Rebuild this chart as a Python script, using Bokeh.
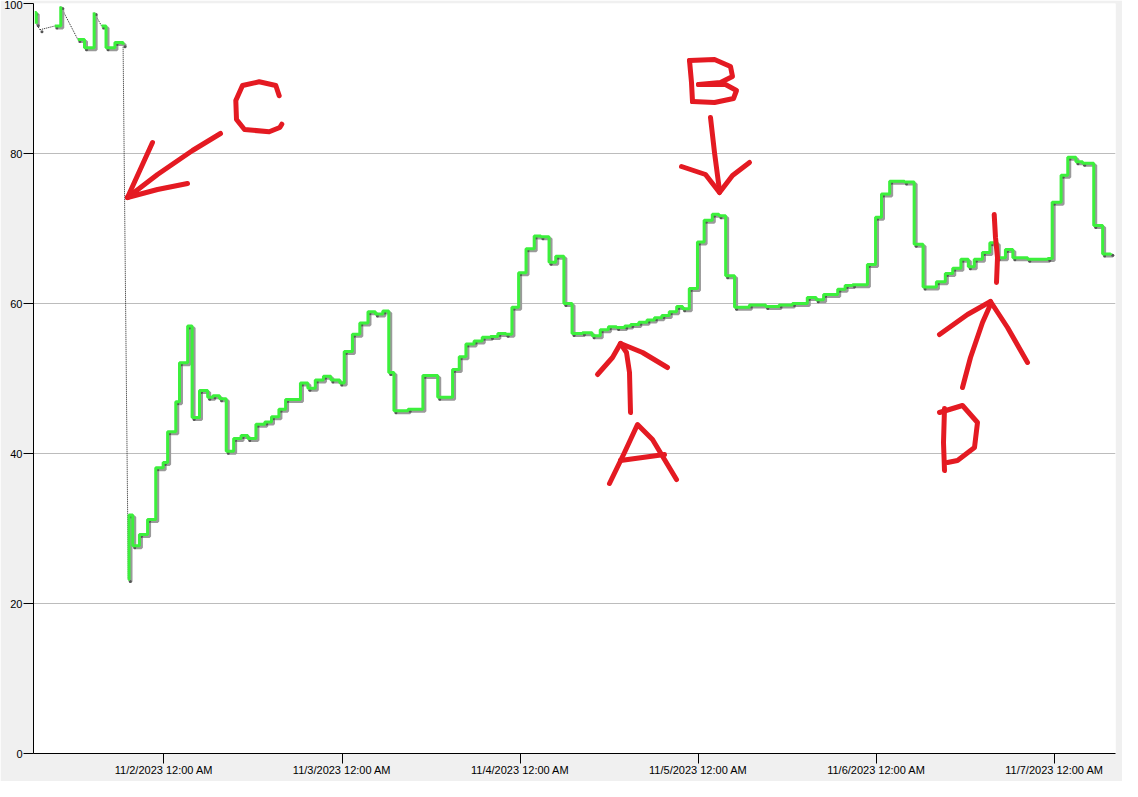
import calendar
from datetime import datetime

from bokeh.plotting import figure
from bokeh.models import Range1d, FixedTicker
from bokeh.embed import file_html
from bokeh.resources import INLINE

# ---------------- data ----------------
# time of each reading, in hours after 11/2/2023 12:00 AM
hours = [
    -17.4, -17.2, -16.7, -14.7, -13.9, -11.6, -10.7, -9.4, -8.4, -7.8, -6.6, -5.5,
    -4.8, -4.7, -4.2, -3.3, -2.2, -1.1, -0.1, 0.5, 1.6, 2.1, 3.2, 3.8, 4.8, 5.9,
    6.6, 7.5, 8.4, 9.4, 10.4, 11.3, 12.4, 13.6, 14.5, 15.5, 16.4, 18.4, 19.4, 20.4,
    21.5, 22.5, 23.7, 24.3, 25.4, 26.4, 27.5, 28.5, 29.5, 30.3, 31.0, 32.9, 34.9,
    36.9, 38.9, 39.8, 40.7, 41.8, 42.9, 44.0, 45.0, 46.1, 46.9, 47.8, 48.8, 49.9,
    50.8, 51.9, 52.8, 53.9, 55.0, 56.4, 57.7, 58.8, 59.9, 61.0, 62.1, 62.9, 64.0,
    65.1, 66.1, 67.1, 68.1, 69.1, 69.9, 70.8, 71.9, 72.8, 73.9, 74.8, 75.7, 76.9,
    78.9, 81.1, 82.9, 84.7, 86.7, 87.9, 88.9, 90.8, 91.8, 92.8, 94.8, 95.9, 96.7,
    97.8, 99.8, 101.1, 102.3, 104.1, 105.3, 106.3, 107.4, 108.4, 109.2, 110.3,
    111.3, 112.3, 113.4, 114.4, 116.4, 119.1, 119.7, 120.9, 121.8, 122.9, 123.8,
    125.3, 126.5, 127.6,
]
values = [
    98.8, 97.3, 96.5, 97.0, 99.6, 95.2, 94.1, 98.8, 97.0, 94.1, 94.8, 94.5,
    23.2, 31.8, 27.7, 29.2, 31.2, 38.1, 38.8, 42.9, 46.9, 52.1, 57.0, 44.8, 48.4, 47.5,
    47.7, 47.3, 40.3, 42.0, 42.4, 42.0, 43.9, 44.2, 44.9, 45.9, 47.2, 49.4, 48.7, 49.8,
    50.3, 49.8, 49.4, 53.6, 55.9, 57.4, 58.9, 58.6, 59.0, 50.8, 45.7, 45.9, 50.4,
    47.5, 51.2, 52.9, 54.6, 55.0, 55.5, 55.6, 56.0, 55.9, 59.5, 64.1, 67.3, 69.0,
    68.9, 65.5, 66.3, 60.0, 56.0, 56.1, 55.7, 56.5, 56.9, 56.8, 57.0, 57.2, 57.5,
    57.8, 58.1, 58.4, 58.9, 59.6, 59.3, 62.0, 68.2, 71.1, 71.9, 71.7, 63.7, 59.5,
    59.8, 59.6, 59.8, 60.0, 60.8, 60.5, 61.2, 61.9, 62.4, 62.5, 65.2, 71.5, 74.6,
    76.3, 76.2, 67.9, 62.2, 62.9, 64.0, 64.7, 65.9, 64.9, 65.9, 66.8,
    68.1, 66.1, 67.2, 66.1, 65.9, 66.0, 73.5, 77.1, 79.5, 78.9, 78.7,
    70.4, 66.6, 66.7,
]
# readings i -> i+1 joined by a dotted line (missing readings between them)
dotted_links = [1, 2, 4, 7, 11]

tick_labels = ["11/2/2023 12:00 AM", "11/3/2023 12:00 AM", "11/4/2023 12:00 AM",
               "11/5/2023 12:00 AM", "11/6/2023 12:00 AM", "11/7/2023 12:00 AM"]
tick_days = [0, 1, 2, 3, 4, 5]           # days after 11/2/2023
y_ticks = [0, 20, 40, 60, 80, 100]

# ---------------- helpers ----------------
BASE_MS = calendar.timegm(datetime(2023, 11, 2).timetuple()) * 1000.0
HOUR_MS = 3600000.0


def to_ms(h):
    return BASE_MS + h * HOUR_MS


# reference pixel geometry (used for free-hand annotation strokes & styling offsets)
PX_PER_HOUR = 178.1 / 24.0
PX_PER_UNIT = 7.5
X0_PX = 171.4      # pixel of 11/2 12:00 AM
Y0_PX = 761.0      # pixel of value 0


def P(px, py):
    return to_ms((px - X0_PX) / PX_PER_HOUR), (Y0_PX - py) / PX_PER_UNIT


x_start = to_ms((41 - X0_PX) / PX_PER_HOUR)
x_end = to_ms((1123 - X0_PX) / PX_PER_HOUR)

p = figure(width=1122, height=781, title=None,
           x_axis_type="datetime",
           x_range=Range1d(x_start, x_end), y_range=Range1d(0, 100),
           output_backend="svg", toolbar_location=None,
           min_border_left=33, min_border_right=7, min_border_top=3, min_border_bottom=28,
           background_fill_color="white", border_fill_color="#f0f0f0",
           outline_line_color=None)

FONT = "Liberation Sans"
for ax in (p.xaxis[0], p.yaxis[0]):
    ax.axis_line_color = "black"
    ax.major_tick_line_color = "black"
    ax.minor_tick_line_color = None
    ax.major_tick_in = 0
    ax.major_label_text_font = FONT
    ax.major_label_text_font_size = "11px"
    ax.major_label_text_color = "black"

tick_ms = [int(to_ms(d * 24)) for d in tick_days]
p.xaxis.ticker = FixedTicker(ticks=tick_ms)
p.xaxis.major_label_overrides = {t: lab for t, lab in zip(tick_ms, tick_labels)}
p.xaxis.major_tick_out = 10
p.xaxis.major_label_standoff = 0

p.yaxis.ticker = FixedTicker(ticks=y_ticks)
p.yaxis.major_tick_out = 10
p.yaxis.major_label_standoff = 1

p.xgrid.visible = False
p.ygrid.ticker = FixedTicker(ticks=y_ticks)
p.ygrid.grid_line_color = "#bcbcbc"
p.ygrid.grid_line_width = 1

# ---------------- series ----------------
xs = [to_ms(h) for h in hours]
sdx = 2.0 / PX_PER_HOUR * HOUR_MS      # shadow offset: 2px right
sdy = -2.0 / PX_PER_UNIT               # shadow offset: 2px down

# runs of consecutive readings joined by solid steps
runs, cur = [], [0]
for i in range(1, len(values)):
    if (i - 1) in dotted_links:
        runs.append(cur)
        cur = [i]
    else:
        cur.append(i)
runs.append(cur)

for i in dotted_links:
    p.line([xs[i], xs[i + 1]], [values[i], values[i + 1]],
           line_color="#202020", line_width=1, line_dash="1 1")

for run in runs:
    if len(run) < 2:
        continue
    rx = [xs[i] for i in run]
    ry = [values[i] for i in run]
    p.step([x + sdx for x in rx], [y + sdy for y in ry], mode="after",
           line_color="#9a9a9a", line_width=3)

p.scatter([x + sdx for x in xs], [v + sdy for v in values], size=3,
          color="#555555", line_color=None)

for run in runs:
    if len(run) < 2:
        continue
    rx = [xs[i] for i in run]
    ry = [values[i] for i in run]
    p.step(rx, ry, mode="after", line_color="#3cf03c", line_width=3)

# ---------------- red free-hand annotations ----------------
strokes_px = [
    # C
    [(286.7, 103.3), (283.3, 93), (266.7, 89.3), (250, 93), (243.3, 108), (244, 127),
     (252, 137), (276.7, 139.3), (287.3, 135), (289.3, 131.7)],
    [(228, 141), (200, 158), (165, 182), (135, 205)],
    [(160, 150), (150, 172), (135, 205)],
    [(135, 205), (165, 197), (195, 191)],
    # B
    [(697, 68), (699, 90), (700, 109)],
    [(697, 68), (722, 67), (738, 74), (740, 84), (728, 90), (706, 92)],
    [(706, 92), (733, 92), (744, 98), (741, 106), (722, 110), (700, 109)],
    [(718, 125), (722, 160), (727, 198)],
    [(689, 174), (713, 182), (727, 200)],
    [(727, 200), (740, 183), (757, 170)],
    # A
    [(638, 420), (637, 380), (634, 360), (628, 351)],
    [(605, 382), (620, 365), (628, 351)],
    [(628, 351), (650, 360), (675, 375)],
    [(617, 491), (632, 460), (645, 432), (660, 447), (684, 487)],
    [(628, 468), (672, 462)],
    # D
    [(947, 342), (975, 322), (998, 309)],
    [(998, 309), (1015, 335), (1035, 370)],
    [(998, 312), (990, 330), (978, 365), (970, 395)],
    [(952, 416), (951, 450), (952, 478)],
    [(947, 420), (970, 413), (985, 430), (982, 455), (965, 468), (955, 470)],
    [(1001.7, 222), (1003, 245), (1005, 265), (1004, 290)],
]
sx, sy = [], []
for s in strokes_px:
    pts = [P(a, b) for a, b in s]
    sx.append([q[0] for q in pts])
    sy.append([q[1] for q in pts])
p.multi_line(sx, sy, line_color="#e41a22", line_width=5,
             line_cap="round", line_join="round")

open("out.html", "w").write(file_html(p, INLINE))
